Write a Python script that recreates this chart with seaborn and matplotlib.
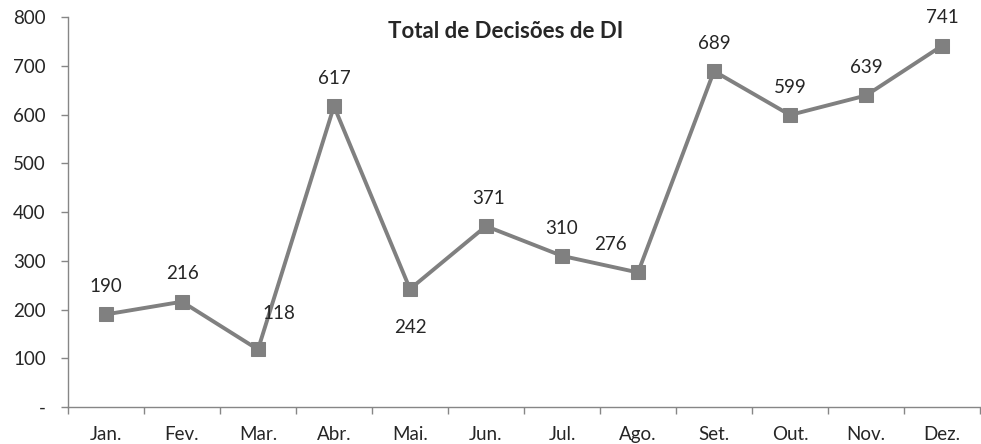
import matplotlib
matplotlib.use("Agg")
import matplotlib.pyplot as plt
import seaborn as sns
import pandas as pd
import numpy as np

months = ["Jan.", "Fev.", "Mar.", "Abr.", "Mai.", "Jun.", "Jul.", "Ago.", "Set.", "Out.", "Nov.", "Dez."]
decisoes = [190, 216, 118, 617, 242, 371, 310, 276, 689, 599, 639, 741]
# label offsets in points (dx, dy) so labels sit like the original
label_dx = [0, 0, 15, 0, 0, 2, 0, -20, 0, 0, 0, 0]
label_dy = [20, 20, 26, 20, -28, 20, 20, 20, 20, 20, 20, 20]

df = pd.DataFrame({"Mes": months, "Total": decisoes})
df["pos"] = np.arange(len(months))

sns.set_style("white")
plt.rcParams["font.family"] = ["Lato", "DejaVu Sans"]

fig = plt.figure(figsize=(9.81, 4.44), dpi=100)
ax = fig.add_axes([0.0693, 0.0833, 0.9297, 0.8784])

sns.lineplot(data=df, x="pos", y="Total", ax=ax, color="#808080", linewidth=2.8,
             marker="s", markersize=10, markeredgecolor="#808080")

for x, y, dx, dy in zip(df["pos"], df["Total"], label_dx, label_dy):
    ax.annotate(str(y), (x, y), xytext=(dx, dy), textcoords="offset points",
                ha="center", va="center", fontsize=13.5)

ax.set_xlim(-0.5, len(months) - 0.5)
ax.set_ylim(0, 800)
ax.set_yticks(range(0, 801, 100))
ax.set_yticklabels(["-"] + [str(v) for v in range(100, 801, 100)], fontsize=13.5)
ax.set_xticks(df["pos"])
ax.set_xticklabels(months, fontsize=13.5)
ax.set_xticks(np.arange(-0.5, len(months), 1), minor=True)
ax.tick_params(axis="x", which="major", length=0, pad=14, bottom=True)
ax.tick_params(axis="x", which="minor", length=5, width=1, color="#868686",
               direction="out", bottom=True)
ax.tick_params(axis="y", length=5, width=1, color="#868686", direction="out",
               pad=11, left=True)
ax.set_xlabel("")
ax.set_ylabel("")

for s in ["top", "right"]:
    ax.spines[s].set_visible(False)
for s in ["left", "bottom"]:
    ax.spines[s].set_color("#868686")
    ax.spines[s].set_linewidth(1)

fig.text(0.515, 0.93, "Total de Decisões de DI", ha="center", va="center",
         fontsize=16, fontweight="bold")

fig.savefig("out.png", dpi=100)
